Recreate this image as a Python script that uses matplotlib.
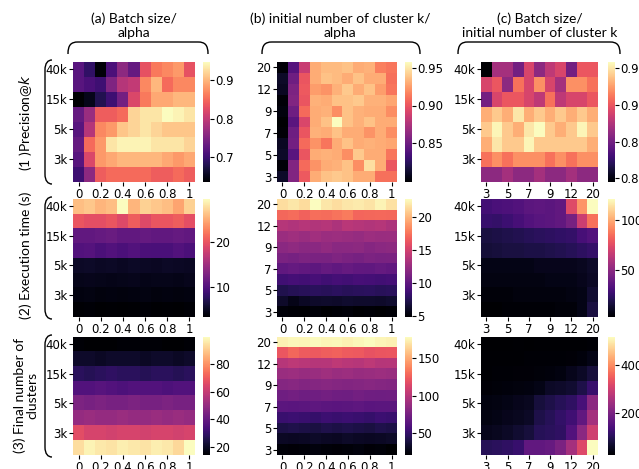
"""Heatmaps of precision, execution time and final cluster count."""

import numpy as np
import matplotlib.pyplot as plt
from matplotlib.path import Path
from matplotlib.patches import PathPatch

W, H = 639, 469

# tick labels (every other row / column is labelled)
alpha_ticks = ["0", "0.2", "0.4", "0.6", "0.8", "1"]
batch_ticks = ["40k", "15k", "5k", "3k"]
k_row_ticks = ["20", "12", "9", "7", "5", "3"]
k_col_ticks = ["3", "5", "7", "9", "12", "20"]

col_titles = [
    "(a) Batch size/\nalpha",
    "(b) initial number of cluster k/\nalpha",
    "(c) Batch size/\ninitial number of cluster k",
]
row_titles = ["(1 )Precision@$k$", "(2) Execution time (s)", "(3) Final number of\nclusters"]

# (1) Precision@k
prec_a = [
    [0.72, 0.69, 0.64, 0.71, 0.76, 0.73, 0.83, 0.86, 0.87, 0.88, 0.83],
    [0.72, 0.71, 0.70, 0.75, 0.79, 0.80, 0.87, 0.90, 0.85, 0.87, 0.87],
    [0.635, 0.65, 0.68, 0.70, 0.74, 0.82, 0.86, 0.89, 0.89, 0.90, 0.90],
    [0.73, 0.77, 0.84, 0.84, 0.85, 0.92, 0.93, 0.93, 0.947, 0.94, 0.93],
    [0.72, 0.79, 0.87, 0.88, 0.91, 0.92, 0.93, 0.92, 0.91, 0.91, 0.91],
    [0.73, 0.85, 0.88, 0.93, 0.94, 0.94, 0.94, 0.93, 0.93, 0.93, 0.92],
    [0.72, 0.82, 0.88, 0.89, 0.90, 0.90, 0.90, 0.90, 0.89, 0.88, 0.89],
    [0.70, 0.76, 0.84, 0.85, 0.85, 0.85, 0.85, 0.84, 0.84, 0.85, 0.84],
]
prec_b = [
    [0.800, 0.840, 0.885, 0.930, 0.935, 0.935, 0.938, 0.930, 0.932, 0.915, 0.912],
    [0.810, 0.850, 0.900, 0.930, 0.938, 0.935, 0.930, 0.938, 0.930, 0.930, 0.910],
    [0.808, 0.856, 0.902, 0.925, 0.922, 0.932, 0.940, 0.930, 0.938, 0.925, 0.912],
    [0.800, 0.858, 0.900, 0.932, 0.930, 0.938, 0.938, 0.940, 0.932, 0.932, 0.928],
    [0.802, 0.850, 0.908, 0.930, 0.932, 0.920, 0.938, 0.932, 0.930, 0.930, 0.920],
    [0.798, 0.842, 0.892, 0.930, 0.938, 0.958, 0.938, 0.932, 0.938, 0.930, 0.930],
    [0.800, 0.850, 0.900, 0.932, 0.930, 0.938, 0.930, 0.930, 0.922, 0.930, 0.920],
    [0.808, 0.852, 0.908, 0.922, 0.912, 0.930, 0.938, 0.930, 0.932, 0.930, 0.928],
    [0.810, 0.842, 0.900, 0.930, 0.932, 0.930, 0.920, 0.940, 0.930, 0.930, 0.912],
    [0.800, 0.858, 0.908, 0.922, 0.930, 0.932, 0.938, 0.920, 0.948, 0.930, 0.900],
    [0.810, 0.858, 0.902, 0.930, 0.938, 0.940, 0.938, 0.930, 0.930, 0.910, 0.910],
]
prec_c = [
    [0.795, 0.870, 0.870, 0.850, 0.890, 0.860, 0.880, 0.890, 0.850, 0.900, 0.900],
    [0.890, 0.900, 0.860, 0.910, 0.890, 0.920, 0.890, 0.870, 0.920, 0.920, 0.910],
    [0.850, 0.890, 0.900, 0.900, 0.890, 0.880, 0.910, 0.880, 0.890, 0.890, 0.900],
    [0.930, 0.940, 0.930, 0.950, 0.930, 0.940, 0.930, 0.940, 0.930, 0.940, 0.930],
    [0.940, 0.955, 0.940, 0.930, 0.950, 0.958, 0.940, 0.930, 0.940, 0.955, 0.940],
    [0.930, 0.950, 0.940, 0.940, 0.955, 0.940, 0.940, 0.940, 0.940, 0.940, 0.930],
    [0.910, 0.920, 0.910, 0.920, 0.920, 0.920, 0.910, 0.920, 0.910, 0.920, 0.920],
    [0.860, 0.860, 0.870, 0.860, 0.860, 0.870, 0.860, 0.860, 0.870, 0.860, 0.860],
]

# (2) Execution time (s)
time_a = [
    [26.0, 26.5, 25.5, 26.0, 29.5, 25.5, 27.0, 26.5, 26.0, 24.5, 27.0],
    [20.0, 19.5, 19.5, 20.0, 19.0, 20.5, 19.0, 20.0, 20.0, 20.5, 19.5],
    [11.0, 11.0, 11.2, 11.5, 11.0, 11.0, 11.2, 11.0, 11.0, 11.2, 11.0],
    [10.0, 10.2, 9.6, 10.0, 9.6, 10.0, 9.6, 9.5, 9.5, 10.0, 9.6],
    [5.2, 5.3, 5.1, 5.2, 5.0, 5.2, 5.1, 5.0, 5.2, 5.1, 5.0],
    [4.6, 4.7, 4.6, 4.5, 4.6, 4.7, 4.5, 4.6, 4.6, 4.5, 4.7],
    [4.1, 4.2, 4.0, 4.1, 4.0, 4.1, 4.2, 4.0, 4.1, 4.0, 4.1],
    [3.5, 3.6, 3.4, 3.5, 3.3, 3.5, 3.6, 3.4, 3.5, 3.4, 3.6],
]
time_b = [
    [21.5, 21.8, 21.4, 22.7, 21.8, 21.5, 21.8, 22.0, 21.7, 22.3, 21.6],
    [17.0, 17.2, 16.8, 17.3, 17.2, 17.5, 17.8, 16.9, 17.0, 17.1, 17.0],
    [13.7, 13.5, 13.8, 13.6, 13.7, 13.4, 13.9, 13.7, 13.6, 13.7, 13.4],
    [12.6, 12.8, 12.5, 12.9, 12.6, 12.7, 12.5, 12.4, 12.7, 12.5, 12.6],
    [11.9, 12.1, 11.8, 11.9, 12.2, 11.8, 11.9, 12.0, 11.7, 11.9, 12.0],
    [11.2, 11.0, 11.3, 11.2, 11.1, 11.4, 11.2, 11.0, 11.3, 11.1, 11.2],
    [10.0, 10.2, 10.1, 9.9, 10.2, 10.0, 10.3, 10.1, 10.0, 10.2, 10.1],
    [8.6, 8.8, 8.7, 8.9, 8.6, 8.8, 8.7, 8.9, 8.8, 8.7, 8.8],
    [7.3, 7.5, 7.6, 7.7, 7.6, 7.8, 7.6, 7.7, 7.8, 7.6, 7.7],
    [6.2, 5.6, 6.0, 6.2, 6.3, 6.2, 6.4, 6.3, 6.3, 6.2, 6.4],
    [5.1, 5.0, 4.9, 5.1, 4.8, 5.0, 5.1, 4.9, 5.0, 4.8, 5.0],
]
time_c = [
    [29, 31, 32, 33, 36, 37, 36, 38, 74, 95, 121],
    [26, 25, 27, 30, 33, 35, 36, 38, 44, 68, 86],
    [17, 18, 19, 20, 21, 22, 23, 24, 25, 30, 33],
    [15, 16, 17, 17, 18, 18, 19, 20, 21, 23, 25],
    [8, 8, 8, 8, 8, 9, 9, 9, 9, 10, 12],
    [7, 7, 7, 7, 7, 7, 8, 8, 8, 9, 11],
    [5, 5, 5, 6, 6, 6, 6, 6, 7, 8, 14],
    [3, 3, 4, 4, 4, 4, 4, 5, 5, 8, 17],
]

# (3) Final number of clusters
clus_a = [
    [15, 14, 14, 14, 15, 15, 15, 15, 14, 14, 15],
    [21, 21, 20, 21, 21, 21, 20, 21, 21, 20, 21],
    [28, 27, 28, 29, 28, 28, 27, 28, 28, 27, 28],
    [36, 36, 37, 36, 35, 36, 36, 36, 35, 36, 36],
    [45, 44, 45, 44, 44, 45, 44, 44, 45, 44, 44],
    [50, 51, 50, 50, 51, 50, 50, 51, 50, 51, 50],
    [67, 64, 64, 63, 64, 64, 63, 64, 64, 63, 64],
    [94, 98, 96, 95, 97, 96, 95, 97, 96, 93, 100],
]
clus_b = [
    [174, 176, 175, 177, 175, 176, 174, 176, 178, 175, 174],
    [122, 128, 124, 123, 125, 126, 124, 123, 120, 121, 122],
    [100, 102, 101, 99, 100, 103, 101, 100, 102, 99, 100],
    [89, 90, 88, 89, 91, 89, 90, 88, 89, 90, 89],
    [81, 82, 80, 81, 82, 81, 80, 81, 82, 81, 80],
    [73, 74, 72, 73, 74, 73, 72, 74, 73, 72, 73],
    [65, 64, 65, 66, 65, 64, 65, 66, 64, 65, 65],
    [52, 53, 52, 51, 53, 52, 53, 52, 51, 53, 52],
    [41, 42, 41, 40, 42, 41, 42, 41, 40, 42, 41],
    [32, 31, 32, 33, 32, 31, 33, 32, 31, 32, 33],
    [24, 23, 24, 25, 24, 23, 24, 25, 23, 24, 21],
]
clus_c = [
    [25, 26, 26, 27, 26, 27, 27, 28, 28, 28, 30],
    [27, 27, 28, 28, 29, 29, 30, 30, 32, 35, 45],
    [28, 29, 30, 31, 32, 33, 35, 40, 50, 60, 80],
    [32, 33, 35, 37, 40, 45, 60, 65, 70, 90, 120],
    [40, 42, 45, 50, 55, 80, 90, 100, 110, 140, 220],
    [42, 45, 50, 55, 60, 90, 100, 115, 130, 170, 250],
    [50, 55, 60, 70, 80, 100, 105, 110, 150, 220, 300],
    [100, 105, 110, 120, 170, 170, 175, 200, 250, 320, 517],
]

cbar_ticks = [
    [[0.7, 0.8, 0.9], [0.85, 0.90, 0.95], [0.80, 0.85, 0.90, 0.95]],
    [[10, 20], [5, 10, 15, 20], [50, 100]],
    [[20, 40, 60, 80], [50, 100, 150], [200, 400]],
]

grid = [
    [prec_a, prec_b, prec_c],
    [time_a, time_b, time_c],
    [clus_a, clus_b, clus_c],
]
x_labels = [alpha_ticks, alpha_ticks, k_col_ticks]
y_labels = [batch_ticks, k_row_ticks, batch_ticks]


def px(x, y):
    return x / W, 1 - y / H


def brace_top(fig, x0, x1, ytop, ybot):
    verts = [px(x0, ybot), px(x0, ytop + 3), px(x0 + 3, ytop), px(x0 + 10, ytop),
             px(x1 - 10, ytop), px(x1 - 3, ytop), px(x1, ytop + 3), px(x1, ybot)]
    codes = [Path.MOVETO, Path.CURVE4, Path.CURVE4, Path.CURVE4,
             Path.LINETO, Path.CURVE4, Path.CURVE4, Path.CURVE4]
    fig.add_artist(PathPatch(Path(verts, codes), transform=fig.transFigure,
                             fill=False, lw=1.0, color="black"))


def brace_left(fig, y0, y1, xl, xr):
    verts = [px(xr, y0), px(xl + 3, y0), px(xl, y0 + 3), px(xl, y0 + 10),
             px(xl, y1 - 10), px(xl, y1 - 3), px(xl + 3, y1), px(xr, y1)]
    codes = [Path.MOVETO, Path.CURVE4, Path.CURVE4, Path.CURVE4,
             Path.LINETO, Path.CURVE4, Path.CURVE4, Path.CURVE4]
    fig.add_artist(PathPatch(Path(verts, codes), transform=fig.transFigure,
                             fill=False, lw=1.0, color="black"))


fig = plt.figure(figsize=(W / 100, H / 100), dpi=100)

col_x = [(73, 195, 203), (277, 397, 405), (481, 598, 608)]
row_y = [(62, 182), (199, 317), (337, 455)]

for r in range(3):
    for c in range(3):
        x0, x1, cx = col_x[c]
        y0, y1 = row_y[r]
        ax = fig.add_axes([x0 / W, 1 - y1 / H, (x1 - x0) / W, (y1 - y0) / H])
        cax = fig.add_axes([cx / W, 1 - y1 / H, 7 / W, (y1 - y0) / H])
        data = np.array(grid[r][c], dtype=float)
        im = ax.imshow(data, cmap="magma", aspect="auto", interpolation="nearest")
        ax.set_xticks(range(0, data.shape[1], 2))
        ax.set_xticklabels(x_labels[c], fontsize=8.5)
        ax.set_yticks(range(0, data.shape[0], 2))
        ax.set_yticklabels(y_labels[c], fontsize=8.5)
        ax.tick_params(length=3, width=0.8, pad=1)
        for s in ax.spines.values():
            s.set_visible(False)
        cb = fig.colorbar(im, cax=cax)
        cb.outline.set_visible(False)
        cb.set_ticks(cbar_ticks[r][c])
        cb.ax.tick_params(labelsize=8.5, length=3, width=0.8, pad=1)

title_font = dict(family="Lato", fontsize=10)
for c, (cx, x0, x1) in enumerate([(134, 68, 208), (340, 262, 420), (540, 458, 620)]):
    fig.text(*px(cx, 26), col_titles[c], ha="center", va="center",
             linespacing=1.2, **title_font)
    brace_top(fig, x0, x1, 42, 54)

row_cy = [123, 255, 395]
for r in range(3):
    fig.text(*px(26, row_cy[r]), row_titles[r], ha="center", va="center",
             rotation=90, linespacing=1.1, **title_font)
    brace_left(fig, row_y[r][0] - 2, row_y[r][1] + 2, 45, 52)

fig.savefig("out.png", dpi=100)
plt.close(fig)
